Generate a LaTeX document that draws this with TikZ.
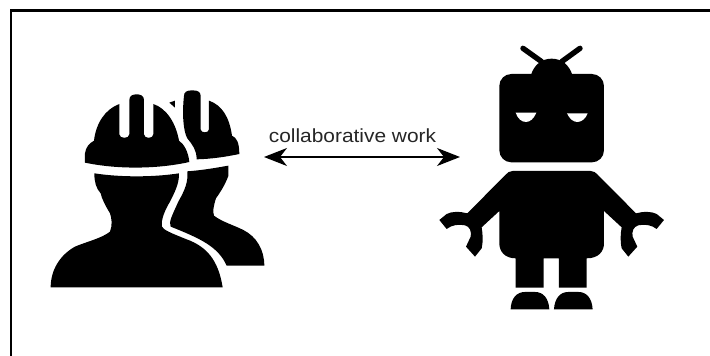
\documentclass[tikz,border=0pt]{standalone}
\usepackage{fontspec}
\setmainfont{Liberation Sans}
\usetikzlibrary{arrows.meta}
\tikzset{
  frameline/.style={black,line width=2.4pt},
  icon/.style={fill=black,draw=none},
  workerscope/.style={shift={(30,70)},x=0.3333pt,y=-0.3333pt},
  robotscope/.style={shift={(430,30)},x=0.3333pt,y=-0.3333pt},
  antenna/.style={black,line width=5.4pt,line cap=round},
  link/.style={black,line width=1.3pt,{Stealth[length=23pt,width=18pt,inset=7pt]}-{Stealth[length=23pt,width=18pt,inset=7pt]}},
  caption/.style={font=\fontsize{19}{22}\selectfont,inner sep=0pt,text=black!85,xscale=1.1}
}
\begin{document}
\begin{tikzpicture}[x=1pt,y=-1pt]
\useasboundingbox (0,0) rectangle (710,356);
\fill[white] (0,0) rectangle (710,356);
\coordinate (frameA) at (11,356);
\coordinate (frameB) at (11,10.5);
\coordinate (frameC) at (710,10.5);
\draw[frameline,line cap=butt,line join=miter] (frameA) -- (frameB) -- (frameC);

% back worker
\begin{scope}[workerscope]
\fill[icon] (462,78) .. controls (462,66) and (470,61) .. (487,61) .. controls (504,61) and (512,66) .. (512,78)
  -- (512,178) .. controls (512,190) and (537,190) .. (537,178) -- (537,92)
  .. controls (575,105) and (598,140) .. (606,197) .. controls (620,203) and (628,218) .. (628,252)
  .. controls (590,260) and (545,267) .. (500,268) .. controls (500,240) and (488,225) .. (472,205)
  .. controls (460,185) and (456,130) .. (462,78) -- cycle;
\fill[icon] (418,98) -- (435,92) -- (435,113) -- cycle;
\fill[icon] (472,304) .. controls (515,301) and (555,294) .. (595,287) -- (595,318)
  .. controls (585,345) and (572,365) .. (558,385) .. controls (550,410) and (548,425) .. (552,437)
  .. controls (575,455) and (610,465) .. (640,480) .. controls (680,500) and (703,540) .. (703,587)
  -- (590,587) .. controls (565,530) and (510,505) .. (422,470)
  .. controls (416,455) and (425,440) .. (445,395) .. controls (465,360) and (475,335) .. (472,304) -- cycle;
% front worker
\fill[icon] (165,278) -- (165,250) .. controls (167,232) and (178,220) .. (192,212)
  .. controls (198,160) and (225,118) .. (268,102) -- (268,193) .. controls (268,207) and (298,207) .. (298,193)
  -- (298,90) .. controls (298,76) and (310,73) .. (320,73) .. controls (330,73) and (342,76) .. (342,90)
  -- (342,193) .. controls (342,207) and (370,207) .. (370,193) -- (370,102)
  .. controls (410,115) and (438,160) .. (447,212) .. controls (462,222) and (475,245) .. (478,276)
  .. controls (380,298) and (260,298) .. (165,278) -- cycle;
\fill[icon] (193,310) .. controls (270,322) and (370,322) .. (447,310)
  .. controls (448,340) and (435,365) .. (420,395) .. controls (405,420) and (392,450) .. (396,470)
  .. controls (400,480) and (425,490) .. (470,508) .. controls (530,530) and (565,570) .. (578,652)
  -- (62,652) .. controls (62,600) and (90,555) .. (135,530) .. controls (170,515) and (215,505) .. (240,485)
  .. controls (248,465) and (245,445) .. (240,430) .. controls (225,405) and (215,385) .. (212,370)
  .. controls (198,355) and (193,335) .. (193,310) -- cycle;
\end{scope}

% robot
\begin{scope}[robotscope]
\coordinate (antL1) at (279,55);
\coordinate (antL2) at (335,95);
\coordinate (antR1) at (450,55);
\coordinate (antR2) at (395,95);
\draw[antenna] (antL1) -- (antL2);
\draw[antenna] (antR1) -- (antR2);
\fill[icon] (303,135) .. controls (312,105) and (335,86) .. (365,86) .. controls (395,86) and (418,105) .. (427,135) -- cycle;
\fill[icon,rounded corners=12pt] (208,132) rectangle (522,397);
\fill[white] (257,248) -- (319,248) .. controls (312,266) and (300,276) .. (288,276) .. controls (275,276) and (263,266) .. (257,248) -- cycle;
\fill[white] (411,250) -- (473,250) .. controls (467,266) and (455,276) .. (442,276) .. controls (430,276) and (418,266) .. (411,250) -- cycle;
\fill[icon] (248,423) -- (482,423) .. controls (492,423) and (497,428) .. (503,434)
  -- (618,550) .. controls (640,544) and (665,544) .. (680,552) -- (702,570) -- (680,597)
  .. controls (665,585) and (645,582) .. (625,586) .. controls (610,590) and (605,605) .. (608,620)
  -- (622,650) -- (595,680) -- (575,655) .. controls (570,630) and (572,612) .. (575,592) -- (522,543)
  -- (522,640) .. controls (522,665) and (505,685) .. (470,685) -- (470,773) -- (387,773) -- (387,685)
  -- (341,685) -- (341,773) -- (257,773) -- (257,685)
  .. controls (225,685) and (208,665) .. (208,640) -- (208,543) -- (155,592)
  .. controls (158,612) and (160,630) .. (155,655) -- (135,680) -- (108,650)
  -- (122,620) .. controls (125,605) and (120,590) .. (105,586)
  .. controls (85,582) and (65,585) .. (50,597) -- (28,570) -- (50,552)
  .. controls (65,544) and (90,544) .. (112,550) -- (227,434)
  .. controls (233,428) and (238,423) .. (248,423) -- cycle;
\fill[icon] (242,838) .. controls (243,805) and (260,786) .. (285,786) -- (315,786)
  .. controls (340,786) and (356,805) .. (358,838) -- cycle;
\fill[icon] (372,838) .. controls (374,805) and (390,786) .. (415,786) -- (445,786)
  .. controls (470,786) and (486,805) .. (488,838) -- cycle;
\end{scope}

% connector
\coordinate (linkL) at (264,157);
\coordinate (linkR) at (460,157);
\draw[link] (linkL) -- (linkR);
\node[caption] (cap) at (352.5,136) {collaborative work};
\end{tikzpicture}
\end{document}
